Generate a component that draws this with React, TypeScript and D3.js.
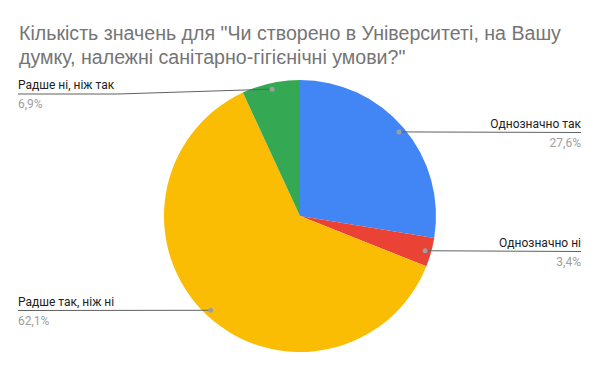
import React from "react";
import * as d3 from "d3";

const titleLines = [
  "Кількість значень для \"Чи створено в Університеті, на Вашу",
  "думку, належні санітарно-гігієнічні умови?\"",
];
const categories = ["Однозначно так", "Однозначно ні", "Радше так, ніж ні", "Радше ні, ніж так"];
const counts = [8, 1, 18, 2];
const percentLabels = ["27,6%", "3,4%", "62,1%", "6,9%"];
const colors = ["#4285f4", "#ea4335", "#fbbc04", "#34a853"];

const W = 600, H = 371;
const cx = 300, cy = 216, R = 136;

export default function App() {
  const pie = d3.pie<number>().sort(null).value((d) => d)(counts);
  const arc = d3.arc<d3.PieArcDatum<number>>().innerRadius(0).outerRadius(R);
  const font = "Roboto, Arial, sans-serif";

  return (
    <svg width={W} height={H} style={{ position: "absolute", left: 0, top: 0, background: "#fff" }}>
      <rect width={W} height={H} fill="#fff" />
      {titleLines.map((t, i) => (
        <text key={i} x={19} y={40 + i * 24} fontFamily="'Liberation Sans', Arial, sans-serif" fontSize={19.6} fill="#757575">
          {t}
        </text>
      ))}
      <g transform={`translate(${cx},${cy})`}>
        {pie.map((p, i) => (
          <path key={i} d={arc(p) || ""} fill={colors[i]} />
        ))}
      </g>
      {pie.map((p, i) => {
        const mid = (p.startAngle + p.endAngle) / 2;
        const dr = R * 0.955;
        const dx = cx + Math.sin(mid) * dr;
        const dy = cy - Math.cos(mid) * dr;
        const right = Math.sin(mid) > 0;
        const lineY = i === 3 ? 94 : Math.round(dy) + 0.5;
        const labelX = right ? 581 : 18;
        const anchor = right ? "end" : "start";
        let pts: [number, number][];
        if (right) {
          pts = [[dx, dy], [581, lineY]];
        } else if (i === 3) {
          pts = [[18, lineY], [118, lineY], [dx, dy]];
        } else {
          pts = [[18, lineY], [dx, dy]];
        }
        const line = d3.line()(pts) || "";
        return (
          <g key={i}>
            <path d={line} stroke="#616161" strokeWidth={1} fill="none" />
            <circle cx={dx} cy={dy} r={2.5} fill="#9e9e9e" />
            <text x={labelX} y={lineY - 5} textAnchor={anchor} fontFamily={font} fontSize={12} fill="#212121">
              {categories[i]}
            </text>
            <text x={labelX} y={lineY + 14} textAnchor={anchor} fontFamily={font} fontSize={12} fill="#9e9e9e">
              {percentLabels[i]}
            </text>
          </g>
        );
      })}
    </svg>
  );
}
